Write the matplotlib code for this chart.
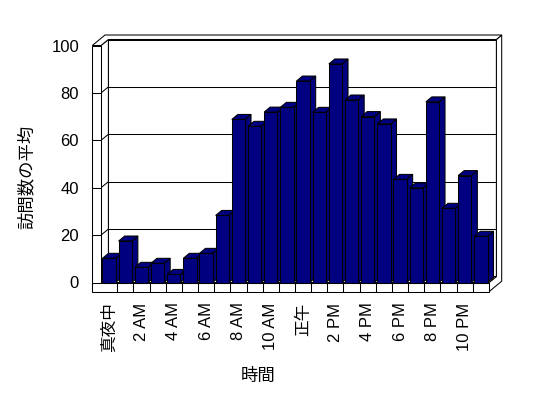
import numpy as np
import matplotlib
matplotlib.use("Agg")
import matplotlib.pyplot as plt
from matplotlib.patches import Polygon

plt.rcParams["font.family"] = ["Liberation Sans", "Noto Sans CJK JP"]

# data
hours = np.arange(24)
visits = [10.2, 17.5, 6.4, 8.1, 3.4, 10.2, 12.3, 28.3, 68.8, 65.9, 71.9, 73.9,
          85.0, 71.8, 92.2, 77.0, 70.0, 66.9, 43.5, 39.9, 76.2, 31.3, 45.1, 19.5]
tick_pos = list(range(0, 24, 2))
tick_labels = ["真夜中", "2 AM", "4 AM", "6 AM", "8 AM", "10 AM",
               "正午", "2 PM", "4 PM", "6 PM", "8 PM", "10 PM"]
y_ticks = [0, 20, 40, 60, 80, 100]

W, H = 548, 398
left_px, right_px = 101, 489
base_px, top_px = 282.5, 45.5
px_x = (right_px - left_px) / 24
px_y = (base_px - top_px) / 100


def depth(dx, dy):
    # pixel offset -> data offset
    return dx / px_x, dy / px_y


wall_d = depth(7.4, 6.0)
outer_d = depth(12.7, 10.5)
bar_d = depth(6.0, 5.0)
wall_t = 8.7 / px_x
floor_t = 9.2 / px_y
x_lo, x_hi = -0.5, 23.5
navy = "#000080"
lw = 0.75

fig = plt.figure(figsize=(W / 100, H / 100), dpi=100)
ax = fig.add_axes([left_px / W, (H - base_px) / H,
                   (right_px - left_px) / W, (base_px - top_px) / H])
ax.set_xlim(x_lo, x_hi)
ax.set_ylim(0, 100)
ax.patch.set_visible(False)
for s in ax.spines.values():
    s.set_visible(False)


def p(x, y, d=(0, 0)):
    return (x + d[0], y + d[1])


def face(points, z, fc="white"):
    ax.add_patch(Polygon(points, closed=True, facecolor=fc, edgecolor="black",
                         lw=lw, clip_on=False, zorder=z))


def line(a, b, z):
    ax.plot([a[0], b[0]], [a[1], b[1]], color="black", lw=lw,
            clip_on=False, zorder=z, solid_capstyle="butt")


# back wall + gridlines
face([p(x_lo, 0, wall_d), p(x_hi, 0, wall_d), p(x_hi, 100, wall_d), p(x_lo, 100, wall_d)], 1)
for v in y_ticks[1:-1]:
    line(p(x_lo, v, wall_d), p(x_hi, v, wall_d), 1.1)

# right side of floor and back wall
face([p(x_hi, -floor_t), p(x_hi, 0), p(x_hi, 0, wall_d), p(x_hi, 100, wall_d),
      p(x_hi, 100, outer_d), p(x_hi, -floor_t, outer_d)], 1.2)

# floor top
face([p(x_lo, 0), p(x_hi, 0), p(x_hi, 0, wall_d), p(x_lo, 0, wall_d)], 1.3)

# left wall inner face with grid diagonals
face([p(x_lo, 0), p(x_lo, 100), p(x_lo, 100, wall_d), p(x_lo, 0, wall_d)], 1.4)
for v in y_ticks[1:-1]:
    line(p(x_lo, v), p(x_lo, v, wall_d), 1.5)

# top of walls
face([p(x_lo - wall_t, 100), p(x_lo, 100), p(x_lo, 100, wall_d), p(x_hi, 100, wall_d),
      p(x_hi, 100, outer_d), p(x_lo - wall_t, 100, outer_d)], 1.6)

# front edge of left wall and floor
face([p(x_lo - wall_t, -floor_t), p(x_hi, -floor_t), p(x_hi, 0), p(x_lo, 0),
      p(x_lo, 100), p(x_lo - wall_t, 100)], 1.7)
for v in y_ticks[:-1]:
    line(p(x_lo - wall_t, v), p(x_lo, v), 1.8)
for k in range(1, 24):
    line(p(k - 0.5, -floor_t), p(k - 0.5, 0), 1.8)

# bars
bw = 0.816
bars = ax.bar(hours, visits, width=bw, color=navy, edgecolor="black", lw=lw)
for i, (rect, v) in enumerate(zip(bars, visits)):
    xl = hours[i] - bw / 2
    xr = hours[i] + bw / 2
    z = 10 + i * 3
    face([p(xr, 0), p(xr, v), p(xr, v, bar_d), p(xr, 0, bar_d)], z, navy)
    face([p(xl, v), p(xr, v), p(xr, v, bar_d), p(xl, v, bar_d)], z + 1, navy)
    rect.set_zorder(z + 2)
    rect.set_clip_on(False)

ax.set_xticks(tick_pos, tick_labels, rotation=90)
ax.set_yticks(y_ticks)
ax.tick_params(axis="x", length=0, pad=14.4, labelsize=12)
ax.tick_params(axis="y", length=0, pad=15.8, labelsize=12)

fig.text(26.7 / W, 1 - 176.7 / H, "訪問数の平均", rotation=90, ha="center",
         va="center", fontsize=12.5, family="Noto Sans CJK JP")
fig.text(258.3 / W, 1 - 375.5 / H, "時間", ha="center", va="center",
         fontsize=12.5, family="Noto Sans CJK JP")

fig.savefig("out.png", dpi=100, facecolor="white")
